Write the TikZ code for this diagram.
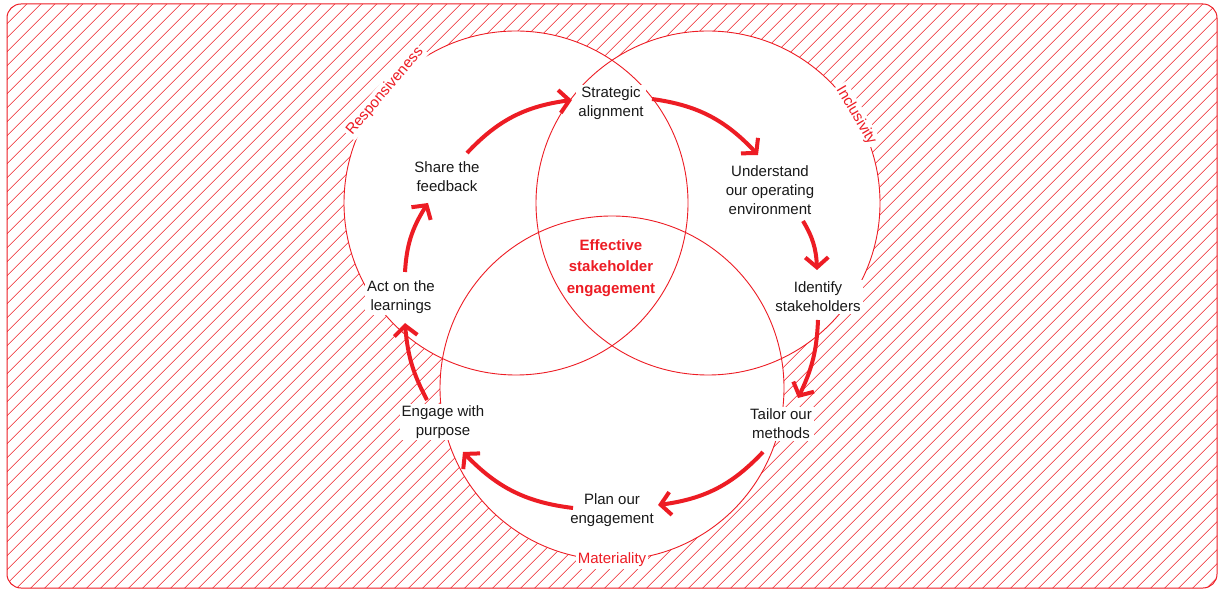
\documentclass[tikz,border=0pt]{standalone}
\usepackage{fontspec}
\setmainfont{Liberation Sans}
\usetikzlibrary{arrows.meta, bending}
\definecolor{vred}{RGB}{237,28,36}

\begin{document}
\begin{tikzpicture}[x=1pt, y=1pt,
        hatch/.style={vred, line width=0.6pt},
        ring/.style={vred, line width=0.9pt},
        stage/.style={align=center, fill=white, inner sep=2pt, text=black!90,
                      font=\fontsize{15}{19}\selectfont},
        ringlabel/.style={fill=white, inner sep=2pt, text=vred, font=\fontsize{15}{18}\selectfont},
        flow/.style={vred, line width=4pt, -{Straight Barb[length=10pt, width=23pt]}}]

    \useasboundingbox (0,0) rectangle (1220,592);

    % Hatched frame
    \begin{scope}
        \clip[rounded corners=14pt] (7,4) rectangle (1217,588);
        \foreach \m in {-88,...,42}
            \draw[hatch] (0,{14*\m+1.3}) -- (1220,{14*\m+1221.3});
    \end{scope}
    \draw[vred, line width=1pt, rounded corners=14pt] (7,4) rectangle (1217,588);

    % Three circles
    \coordinate (lc) at (516,389);
    \coordinate (rc) at (708,389);
    \coordinate (bc) at (612,204);
    \foreach \c in {lc,rc,bc}
        \fill[white] (\c) circle[radius=172pt];
    \foreach \c in {lc,rc,bc}
        \draw[ring] (\c) circle[radius=172pt];

    % Circle labels
    \node[ringlabel, rotate=49.6] (resp) at ([shift={(139.6:172pt)}]lc) {Responsiveness};
    \node[ringlabel, rotate=-59.4] (incl) at ([shift={(30.6:172pt)}]rc) {Inclusivity};
    \node[ringlabel] (mat) at ([shift={(-90:172pt)}]bc) {Materiality};

    % Stages
    \node[stage] (strat) at (611,489) {Strategic\\alignment};
    \node[stage] (under) at (770,402) {Understand\\our operating\\environment};
    \node[stage] (ident) at (818,295) {Identify\\stakeholders};
    \node[stage] (tailor) at (781,168) {Tailor our\\methods};
    \node[stage] (plan) at (612,82) {Plan our\\engagement};
    \node[stage] (engage) at (443,170) {Engage with\\purpose};
    \node[stage] (act) at (401,295) {Act on the\\learnings};
    \node[stage] (share) at (447,415) {Share the\\feedback};
    \node[align=center, text=vred, font=\fontsize{15}{21.5}\selectfont\bfseries] (core) at (611,324)
        {Effective\\stakeholder\\engagement};

    % Cycle
    \draw[flow] ([shift={(20,24)}]share.center) to[bend left=20] ([shift={(-39,3)}]strat.center);
    \draw[flow] ([shift={(41,4)}]strat.center) to[bend left=20] ([shift={(-12,35)}]under.center);
    \draw[flow] ([shift={(33,-31)}]under.center) to[bend left=15] ([shift={(-1,27)}]ident.center);
    \draw[flow] ([shift={(0,-23)}]ident.center) to[bend left=12] ([shift={(17,26)}]tailor.center);
    \draw[flow] ([shift={(-18,-28)}]tailor.center) to[bend left=20] ([shift={(46,5)}]plan.center);
    \draw[flow] ([shift={(-39,2)}]plan.center) to[bend left=20] ([shift={(20,-30)}]engage.center);
    \draw[flow] ([shift={(-16,22)}]engage.center) to[bend left=12] ([shift={(4,-26)}]act.center);
    \draw[flow] ([shift={(4,25)}]act.center) to[bend left=15] ([shift={(-19,-26)}]share.center);
\end{tikzpicture}
\end{document}
